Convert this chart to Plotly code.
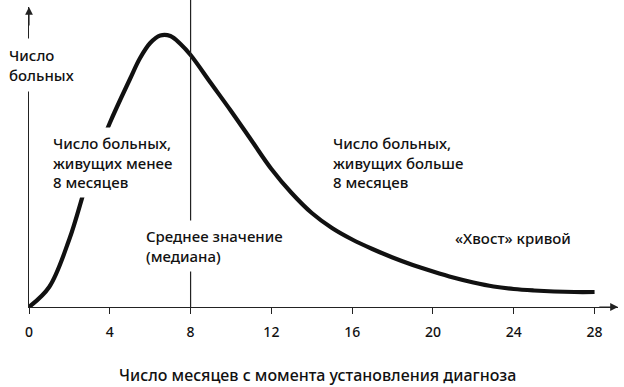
import plotly.graph_objects as go

# Data (arbitrary units: number of patients)
months = [0, 1, 2, 3, 4, 5, 5.5, 6, 6.5, 7, 7.5, 8, 9, 10, 11, 12, 13, 14,
          15, 16, 17, 18, 19, 20, 21, 22, 23, 24, 25, 26, 27, 28]
patients = [0, 20, 68, 133, 184, 228, 249, 264, 271.5, 271, 263, 252, 224, 196, 167, 138, 114, 94,
            79, 67.5, 58, 49.5, 42, 35.5, 29.5, 24.5, 20.5, 18, 16.5, 15.5, 15, 15]
median_month = 8
tick_vals = [0, 4, 8, 12, 16, 20, 24, 28]
tick_text = [str(v) for v in tick_vals]

x_max = 29.16
y_max = 300
FONT = "Noto Sans"
TXT = "#111111"
WEIGHT = 500

fig = go.Figure()
fig.add_trace(go.Scatter(x=months, y=patients, mode="lines",
                         line=dict(color="#111111", width=4.2, shape="spline", smoothing=1.0),
                         hoverinfo="skip", showlegend=False))

# median line
fig.add_shape(type="line", xref="x", yref="paper", x0=median_month, x1=median_month,
              y0=0, y1=1.03, line=dict(color="#222222", width=1.2), layer="above")

# axis arrows
fig.add_annotation(x=x_max, y=0, ax=x_max - 1, ay=0, axref="x", ayref="y", xref="x", yref="y",
                   text="", showarrow=True, arrowhead=2, arrowsize=1.3, arrowwidth=1.2,
                   arrowcolor="#222222")
fig.add_annotation(x=0, y=y_max, ax=0, ay=y_max - 20, axref="x", ayref="y", xref="x", yref="y",
                   text="", showarrow=True, arrowhead=2, arrowsize=1.3, arrowwidth=1.2,
                   arrowcolor="#222222")

def label(text, x, y, size=15, bg="white", pad=4, ref="x"):
    fig.add_annotation(x=x, y=y, xref=ref, yref=("y" if ref == "x" else "paper"), text=text,
                       showarrow=False, xanchor="left", yanchor="middle", align="left",
                       font=dict(family=FONT, size=size, color=TXT, weight=WEIGHT),
                       bgcolor=bg, borderpad=pad)

label("Число<br>больных", -0.0458, 0.807, pad=6, ref="paper")
label("Число больных,<br>живущих менее<br>8 месяцев", 0.89, 145, pad=5)
label("Число больных,<br>живущих больше<br>8 месяцев", 14.8, 145)
label("Среднее значение<br>(медиана)", 5.5, 61, pad=5)
label("«Хвост» кривой", 20.84, 69)

fig.add_annotation(x=0.489, y=-0.227, xref="paper", yref="paper",
                   text="Число месяцев с момента установления диагноза",
                   showarrow=False, xanchor="center", yanchor="middle",
                   font=dict(family=FONT, size=16, color=TXT, weight=WEIGHT))

fig.update_layout(
    width=624, height=387,
    margin=dict(l=29, r=6, t=7, b=80),
    paper_bgcolor="white", plot_bgcolor="white",
    xaxis=dict(range=[0, x_max], showgrid=False, zeroline=False, showline=True,
               linecolor="#222222", linewidth=1.2, ticks="outside", ticklen=6,
               tickwidth=1.2, tickcolor="#222222", tickvals=tick_vals, ticktext=tick_text,
               tickfont=dict(family=FONT, size=14, color=TXT, weight=WEIGHT), ticklabelstandoff=6),
    yaxis=dict(range=[0, y_max], showgrid=False, zeroline=False, showline=True,
               linecolor="#222222", linewidth=1.2, showticklabels=False, ticks=""),
)

fig.write_html("out.html", config={"displayModeBar": False},
               post_script="document.body.style.margin='0';")
